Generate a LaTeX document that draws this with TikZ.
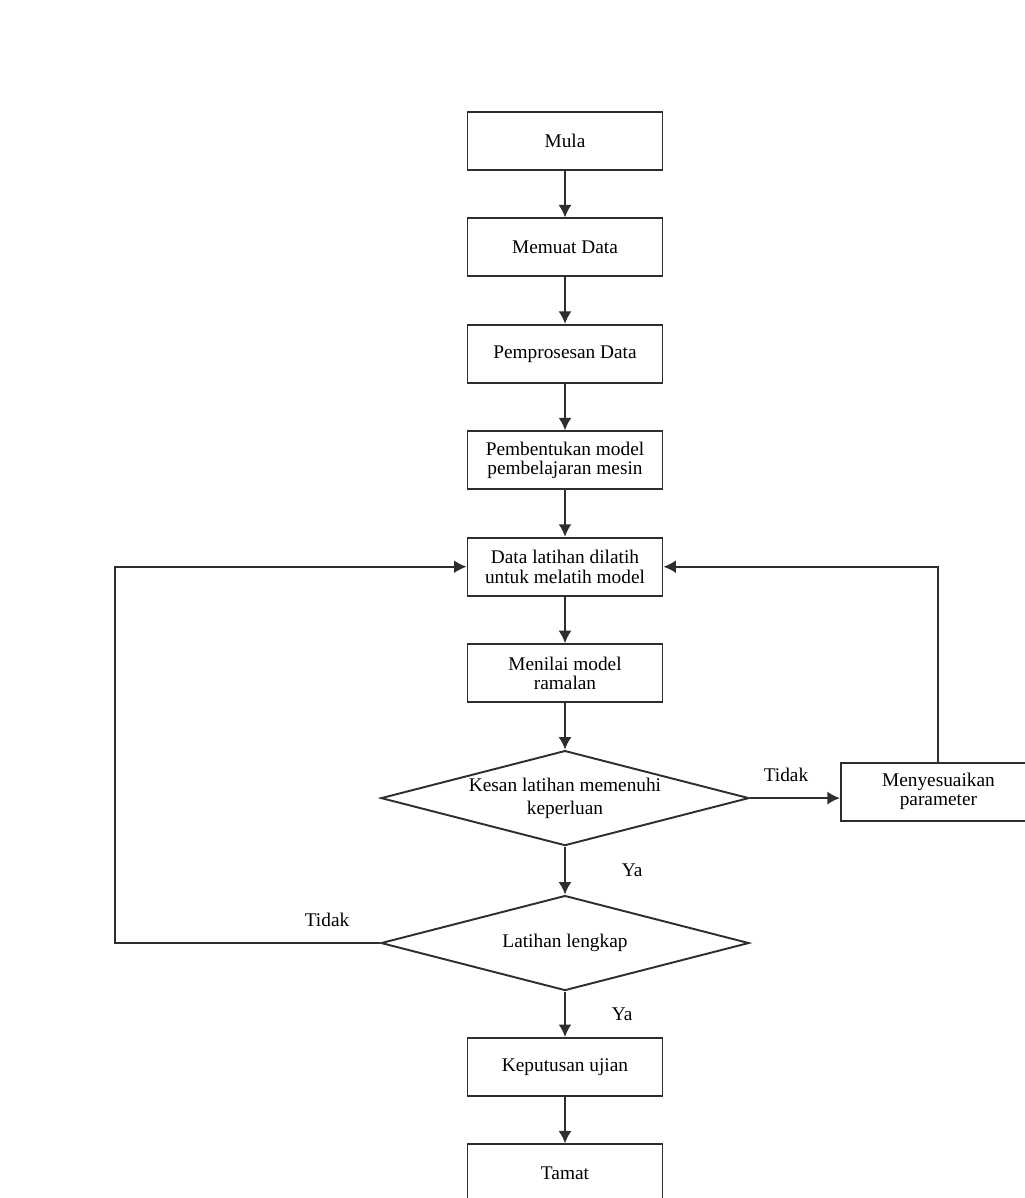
\documentclass[tikz,border=0pt]{standalone}
\usepackage{fontspec}
\setmainfont{Liberation Serif}
\usepackage{tikz}
\usetikzlibrary{arrows.meta,positioning,shapes.geometric}
\definecolor{linegray}{HTML}{2E2E2E}

\begin{document}
\begin{tikzpicture}[
  node distance=9.3mm and 1.8cm,
  box/.style={draw=linegray,line width=1.1pt,minimum width=3.9cm,minimum height=1.16cm,align=center,font=\fontsize{11}{11}\selectfont,inner sep=2pt},
  decision/.style={draw=linegray,line width=1.1pt,diamond,minimum width=7.36cm,minimum height=1.9cm,inner sep=0pt},
  flow/.style={-{Latex[length=2.5mm,width=2.6mm]},line width=1.1pt,draw=linegray},
  note/.style={font=\fontsize{11}{13}\selectfont}
]
\useasboundingbox (0,0) rectangle (20.5,-23.96);
\node[box] (start) at (11.3,-2.82) {Mula};
\node[box,below=of start] (load) {Memuat Data};
\node[box,below=of load] (prep) {Pemprosesan Data};
\node[box,below=of prep] (build) {Pembentukan model\\pembelajaran mesin};
\node[box,below=of build] (train) {Data latihan dilatih\\untuk melatih model};
\node[box,below=of train] (eval) {Menilai model\\ramalan};
\node[decision,below=of eval,label={[note,align=center]center:Kesan latihan memenuhi\\keperluan}] (meet) {};
\node[box,right=of meet,yshift=.13cm] (tune) {Menyesuaikan\\parameter};
\node[decision,below=9.6mm of meet,label={[note]center:Latihan lengkap}] (done) {};
\node[box,below=9.1mm of done] (test) {Keputusan ujian};
\node[box,below=of test] (stop) {Tamat};
\draw[flow] (start)--(load);
\draw[flow] (load)--(prep);
\draw[flow] (prep)--(build);
\draw[flow] (build)--(train);
\draw[flow] (train)--(eval);
\draw[flow] (eval)--(meet);
\draw[flow] (meet.east)--node[note,above=2mm,pos=.4]{Tidak} (meet.east -| tune.west);
\draw[flow] (tune.north) |- (train.east);
\draw[flow] (meet)--node[note,right=10mm]{Ya} (done);
\draw[flow] (done.west)--node[note,above=2mm,pos=.2]{Tidak} ++(-5.3,0) |- (train.west);
\draw[flow] (done)--node[note,right=8mm]{Ya} (test);
\draw[flow] (test)--(stop);
\end{tikzpicture}
\end{document}
